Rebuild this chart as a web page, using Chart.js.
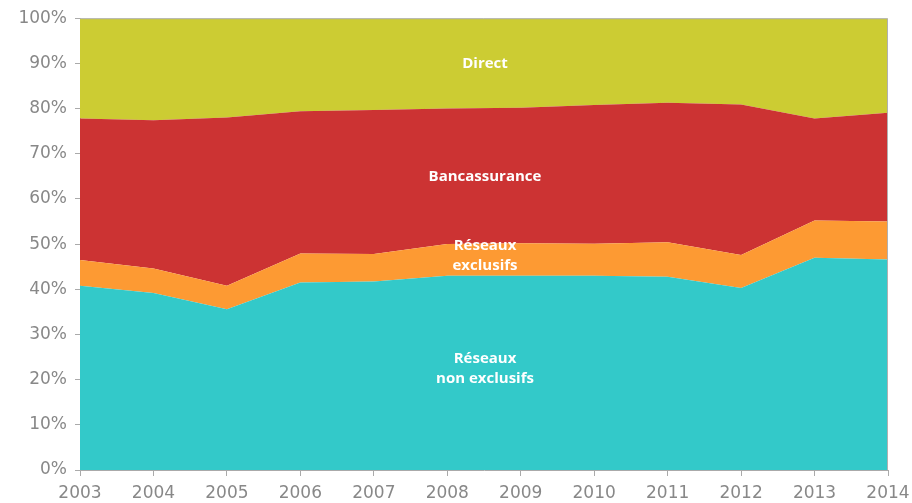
<!DOCTYPE html>
<html>
<head>
<meta charset="utf-8">
<script src="https://cdn.jsdelivr.net/npm/chart.js@4"></script>
<style>
  body { margin: 0; background: #fff; }
  #wrap { width: 912px; height: 503px; position: relative; }
</style>
</head>
<body>
<div id="wrap"><canvas id="share-chart"></canvas></div>
<script>
var years = ['2003', '2004', '2005', '2006', '2007', '2008', '2009', '2010', '2011', '2012', '2013', '2014'];
var nonExclusifs = [40.8, 39.2, 35.6, 41.5, 41.7, 43.0, 43.0, 43.0, 42.8, 40.3, 47.0, 46.6];
var exclusifs = [5.7, 5.4, 5.2, 6.4, 6.1, 7.0, 7.2, 7.1, 7.6, 7.3, 8.2, 8.4];
var bancassurance = [31.3, 32.8, 37.2, 31.5, 31.9, 30.0, 30.0, 30.7, 30.9, 33.3, 22.6, 24.1];
var direct = [22.2, 22.6, 22.0, 20.6, 20.3, 20.0, 19.8, 19.2, 18.7, 19.1, 22.2, 20.9];

// labels written inside the areas: [text lines, y value in %]
var areaLabels = [
    [['Direct'], 90],
    [['Bancassurance'], 65],
    [['Réseaux', 'exclusifs'], 47.5],
    [['Réseaux', 'non exclusifs'], 22.5]
];

var labelPlugin = {
    id: 'areaLabels',
    afterDatasetsDraw: function(chart) {
        var ctx = chart.ctx;
        var a = chart.chartArea;
        var cx = (a.left + a.right) / 2 + 1;
        ctx.save();
        // thin frame on top and right like the original
        ctx.strokeStyle = '#b0b0b0';
        ctx.lineWidth = 1;
        ctx.beginPath();
        ctx.moveTo(a.left, a.top + 0.5);
        ctx.lineTo(a.right - 0.5, a.top + 0.5);
        ctx.lineTo(a.right - 0.5, a.bottom);
        ctx.stroke();

        ctx.fillStyle = '#ffffff';
        ctx.font = 'bold 15px "Open Sans"';
        ctx.textAlign = 'center';
        ctx.textBaseline = 'middle';
        areaLabels.forEach(function(l) {
            var y = chart.scales.y.getPixelForValue(l[1]);
            var h = 20;
            var y0 = y - (l[0].length - 1) * h / 2;
            l[0].forEach(function(t, i) {
                ctx.fillText(t, cx, y0 + i * h);
            });
        });
        ctx.restore();
    }
};

function area(label, data, color, fill) {
    return {
        label: label,
        data: data,
        backgroundColor: color,
        borderColor: color,
        borderWidth: 0,
        pointRadius: 0,
        tension: 0,
        fill: fill
    };
}

var ctx = document.getElementById('share-chart').getContext('2d');
var shareChart = new Chart(ctx, {
    type: 'line',
    data: {
        labels: years,
        datasets: [
            area('Réseaux non exclusifs', nonExclusifs, '#33c9c9', 'origin'),
            area('Réseaux exclusifs', exclusifs, '#fd9a33', '-1'),
            area('Bancassurance', bancassurance, '#cc3333', '-1'),
            area('Direct', direct, '#cccc33', '-1')
        ]
    },
    plugins: [labelPlugin],
    options: {
        responsive: true,
        maintainAspectRatio: false,
        animation: false,
        layout: { padding: { top: 18, right: 24, left: 0, bottom: 0 } },
        plugins: {
            legend: { display: false },
            tooltip: { enabled: false }
        },
        scales: {
            x: {
                offset: false,
                afterFit: function(s) {
                    s.height = 33;
                    s.paddingRight = 0;
                },
                grid: { drawOnChartArea: false, drawTicks: true, tickLength: 6, color: '#aaaaaa' },
                border: { color: '#aaaaaa' },
                ticks: { color: '#888888', font: { family: 'DejaVu Sans', size: 17 }, maxRotation: 0, padding: 7 }
            },
            y: {
                stacked: true,
                min: 0,
                max: 100,
                afterFit: function(s) { s.width = 80; },
                grid: { drawOnChartArea: false, drawTicks: true, tickLength: 5, color: '#aaaaaa' },
                border: { color: '#aaaaaa' },
                ticks: {
                    stepSize: 10,
                    color: '#888888',
                    font: { family: 'DejaVu Sans', size: 17 },
                    padding: 8,
                    callback: function(v) { return v + '%'; }
                }
            }
        }
    }
});
</script>
</body>
</html>
